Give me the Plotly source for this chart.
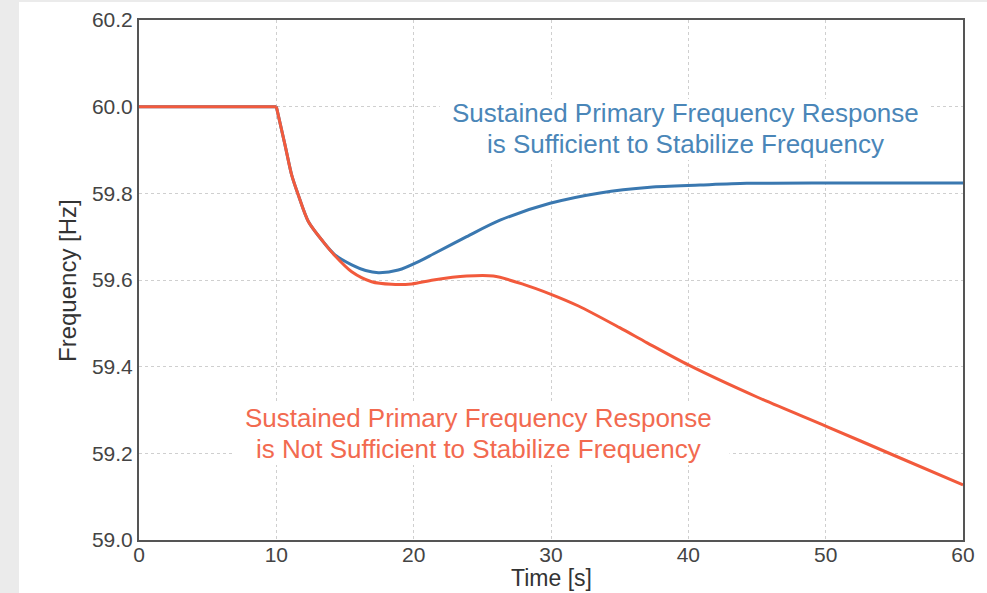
import plotly.graph_objects as go

# Time [s] and frequency [Hz]
t_blue = [0, 10, 10.63, 11.12, 11.6, 12.33, 13.42, 14.27, 15.49, 16.5, 17.43, 18.88, 20.58,
          21.43, 23.86, 26.29, 29.93, 33.57, 37.21, 40.85, 44.25, 50, 55, 60]
f_blue = [60.0, 60.0, 59.912, 59.842, 59.796, 59.735, 59.688, 59.658, 59.635, 59.622, 59.617,
          59.623, 59.646, 59.660, 59.700, 59.738, 59.777, 59.801, 59.814, 59.819, 59.823,
          59.824, 59.824, 59.824]

t_red = [0, 10, 10.63, 11.12, 11.6, 12.33, 13.42, 14.27, 15.49, 16.94, 18.4, 19.86, 21.43,
         23.86, 25.8, 28.0, 30.0, 32.0, 35.0, 37.0, 40.0, 45.0, 50.0, 55.0, 60.0]
f_red = [60.0, 60.0, 59.912, 59.842, 59.796, 59.735, 59.688, 59.656, 59.619, 59.596, 59.590,
         59.591, 59.600, 59.609, 59.609, 59.590, 59.567, 59.540, 59.490, 59.455, 59.404,
         59.330, 59.263, 59.195, 59.127]

x_ticks = [0, 10, 20, 30, 40, 50, 60]
y_ticks = [59.0, 59.2, 59.4, 59.6, 59.8, 60.0, 60.2]
y_tick_text = ["59.0", "59.2", "59.4", "59.6", "59.8", "60.0", "60.2"]

blue_label = ["Sustained Primary Frequency Response", "is Sufficient to Stabilize Frequency"]
blue_label_y = [59.9854, 59.9138]
red_label = ["Sustained Primary Frequency Response", "is Not Sufficient to Stabilize Frequency"]
red_label_y = [59.2815, 59.210]

BLUE = "#3a78b0"
RED = "#f25a3c"
FONT = "Liberation Sans, Arial, sans-serif"

fig = go.Figure()
# flat pre-event segment (straight) + smooth response segment
for tt, ff, col in [(t_blue, f_blue, BLUE), (t_red, f_red, RED)]:
    fig.add_trace(go.Scatter(x=tt[:2], y=ff[:2], mode="lines",
                             line=dict(color=col, width=3, shape="linear"),
                             showlegend=False, hoverinfo="x+y"))
    fig.add_trace(go.Scatter(x=tt[1:], y=ff[1:], mode="lines",
                             line=dict(color=col, width=3, shape="spline", smoothing=0.8),
                             showlegend=False, hoverinfo="x+y"))

annotations = []
for txt, yy in zip(blue_label, blue_label_y):
    annotations.append(dict(x=39.8, y=yy, xref="x", yref="y", text=txt, showarrow=False,
                            xanchor="center", yanchor="middle",
                            font=dict(family=FONT, size=26, color="#4a86b8")))
for txt, yy in zip(red_label, red_label_y):
    annotations.append(dict(x=24.72, y=yy, xref="x", yref="y", text=txt, showarrow=False,
                            xanchor="center", yanchor="middle",
                            font=dict(family=FONT, size=26, color="#f26a50")))
annotations.append(dict(x=-0.0874, y=0.5, xref="paper", yref="paper", text="Frequency [Hz]",
                        textangle=-90, showarrow=False, xanchor="center", yanchor="middle",
                        font=dict(family=FONT, size=24, color="#333333")))
annotations.append(dict(x=0.5, y=(540 - 578) / 520, xref="paper", yref="paper", text="Time [s]",
                        showarrow=False, xanchor="center", yanchor="middle",
                        font=dict(family=FONT, size=23, color="#333333")))

shapes = [
    dict(type="rect", xref="paper", yref="paper",
         x0=(19 - 139) / 824, x1=(987 - 139) / 824 + 0.01,
         y0=-53 / 520 - 0.01, y1=(540 - 2) / 520,
         fillcolor="white", line=dict(width=0), layer="below"),
    # white backing boxes behind the two text blocks (hide gridlines)
    dict(type="rect", xref="x", yref="y", x0=21.9, x1=57.6, y0=59.877, y1=60.0177,
         fillcolor="white", line=dict(width=0), layer="between"),
    dict(type="rect", xref="x", yref="y", x0=6.9, x1=43.0, y0=59.173, y1=59.316,
         fillcolor="white", line=dict(width=0), layer="between"),
]

fig.update_layout(
    width=987, height=593,
    margin=dict(l=139, r=24, t=20, b=53, autoexpand=False),
    paper_bgcolor="#ebebeb", plot_bgcolor="white",
    font=dict(family=FONT, color="#444444"),
    annotations=annotations,
    shapes=shapes,
    xaxis=dict(range=[0, 60], tickvals=x_ticks, ticks="", showline=True, mirror=True,
               linecolor="#555555", linewidth=2, showgrid=True, gridcolor="#cfcfcf",
               griddash="dot", gridwidth=1, zeroline=False, ticklabelstandoff=-5,
               tickfont=dict(family=FONT, size=21, color="#444444")),
    yaxis=dict(range=[59.0, 60.2], tickvals=y_ticks, ticktext=y_tick_text, ticks="",
               showline=True, mirror=True, linecolor="#555555", linewidth=2,
               showgrid=True, gridcolor="#cfcfcf", griddash="dot", gridwidth=1,
               zeroline=False, tickfont=dict(family=FONT, size=21, color="#444444")),
)

fig.write_html("out.html")
